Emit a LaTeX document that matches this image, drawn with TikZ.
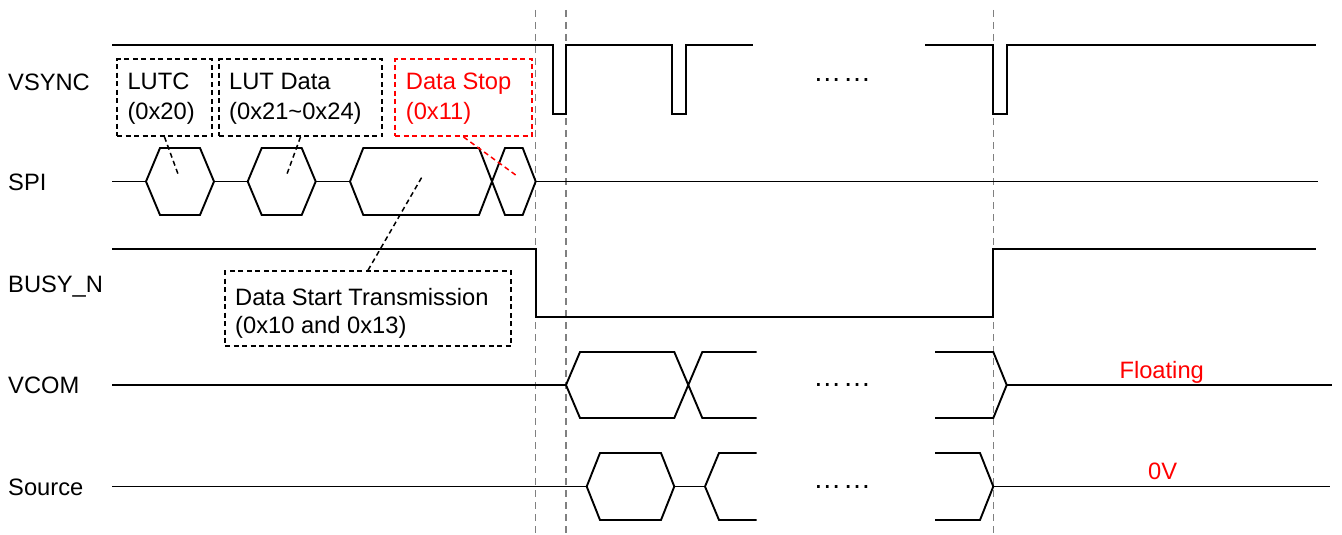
\documentclass[tikz,border=0pt]{standalone}
\usepackage{fontspec}
\setmainfont{Liberation Sans}
\begin{document}
\begin{tikzpicture}[x=1pt,y=-1pt,
  sig/.style={line width=1.9pt, line join=miter},
  guide/.style={draw=black!50, line width=1.5pt, dash pattern=on 7pt off 5pt},
  dbox/.style={draw, line width=1.5pt, dash pattern=on 5pt off 3.5pt, inner sep=0pt},
  ptr/.style={line width=1.5pt, dash pattern=on 5pt off 3.5pt},
  txt/.style={inner sep=0pt, anchor=base west, font=\fontsize{23.7}{28}\selectfont},
  ctxt/.style={inner sep=0pt, anchor=base, font=\fontsize{23.7}{28}\selectfont},
  dots/.style={inner sep=0pt, anchor=base, font=\fontsize{28}{30}\selectfont}
]
\useasboundingbox (0,0) rectangle (1342,535);

% guide lines
\draw[guide] (535.7,10) -- (535.7,535);
\draw[guide] (566,10) -- (566,535);
\draw[guide] (993.3,10) -- (993.3,535);

% signal names
\node[txt] (lvsync) at (8,90.5) {VSYNC};
\node[txt] (lspi) at (8,190) {SPI};
\node[txt] (lbusy) at (8,292.5) {BUSY\_N};
\node[txt] (lvcom) at (8,393) {VCOM};
\node[txt] (lsrc) at (8,495) {Source};

% VSYNC
\draw[sig] (112,45) -- (552.7,45) -- (552.7,114) -- (566,114) -- (566,45)
  -- (671.7,45) -- (671.7,114) -- (685.7,114) -- (685.7,45) -- (752.7,45);
\draw[sig] (925,45) -- (993.3,45) -- (993.3,114) -- (1006.7,114) -- (1006.7,45) -- (1316,45);
\node[dots] (dv) at (842.2,81.5) {…\kern1.7pt…};

% SPI
\draw[sig] (112,181.5) -- (146,181.5);
\draw[sig] (146,181.5) -- (160,148) -- (200,148) -- (214,181.5) -- (200,215) -- (160,215) -- cycle;
\draw[sig] (214,181.5) -- (247.7,181.5);
\draw[sig] (247.7,181.5) -- (261.7,148) -- (301.7,148) -- (315.7,181.5) -- (301.7,215) -- (261.7,215) -- cycle;
\draw[sig] (315.7,181.5) -- (350,181.5);
\draw[sig] (350,181.5) -- (363.3,148) -- (479,148) -- (505,215) -- (522.7,215) -- (535.7,181.5)
  -- (522.7,148) -- (505,148) -- (479,215) -- (363.3,215) -- cycle;
\draw[sig] (535.7,181.5) -- (1318,181.5);

% BUSY_N
\draw[sig] (112,249.3) -- (535.7,249.3) -- (535.7,316.7) -- (993.3,316.7) -- (993.3,249.3) -- (1316,249.3);

% VCOM
\draw[sig] (112,385) -- (566,385);
\draw[sig] (756.7,352) -- (702.3,352) -- (674.3,418) -- (580,418) -- (566,385)
  -- (580,352) -- (674.3,352) -- (702.3,418) -- (756.7,418);
\draw[sig] (935,352) -- (993.3,352) -- (1006.7,385) -- (993.3,418) -- (935,418);
\draw[sig] (1006.7,385) -- (1332,385);
\node[dots] (dc) at (842.2,386.5) {…\kern1.7pt…};

% Source
\draw[sig] (112,486.5) -- (586.7,486.5);
\draw[sig] (586.7,486.5) -- (600,453) -- (661,453) -- (674.3,486.5) -- (661,520) -- (600,520) -- cycle;
\draw[sig] (674.3,486.5) -- (705,486.5);
\draw[sig] (756.7,453) -- (719,453) -- (705,486.5) -- (719,520) -- (756.7,520);
\draw[sig] (935,453) -- (980,453) -- (993.3,486.5) -- (980,520) -- (935,520);
\draw[sig] (993.3,486.5) -- (1330,486.5);
\node[dots] (ds) at (842.2,488) {…\kern1.7pt…};

% level labels
\node[ctxt, text=red] (flt) at (1161.7,378.3) {Floating};
\node[ctxt, text=red] (zv) at (1162.7,479) {0V};

% command boxes
\node[dbox, minimum width=95pt, minimum height=77pt] (lutc) at (164.5,97.7) {};
\node[txt] (lutc1) at (127.3,90) {LUTC};
\node[txt] (lutc2) at (127.3,119.5) {(0x20)};

\node[dbox, minimum width=163pt, minimum height=77pt] (lutd) at (300.5,97.7) {};
\node[txt] (lutd1) at (229,90) {LUT Data};
\node[txt] (lutd2) at (229,119.5) {(0x21\char`~0x24)};

\node[dbox, draw=red, minimum width=137pt, minimum height=77pt] (stop) at (463.5,97.7) {};
\node[txt, text=red] (stop1) at (405.7,90) {Data Stop};
\node[txt, text=red] (stop2) at (405.7,119.5) {(0x11)};

\node[dbox, minimum width=286pt, minimum height=75pt] (start) at (368,308.5) {};
\node[txt] (start1) at (235,305) {Data Start Transmission};
\node[txt] (start2) at (235,333.5) {(0x10 and 0x13)};

% pointers
\coordinate (p1) at (179,176.7);
\coordinate (p2) at (286,176.7);
\coordinate (p3) at (518,176.7);
\coordinate (p4) at (422.7,175.7);
\draw[ptr] (lutc.south) -- (p1);
\draw[ptr] (lutd.south) -- (p2);
\draw[ptr, draw=red] (stop.south) -- (p3);
\draw[ptr] (start.north) -- (p4);
\end{tikzpicture}
\end{document}
